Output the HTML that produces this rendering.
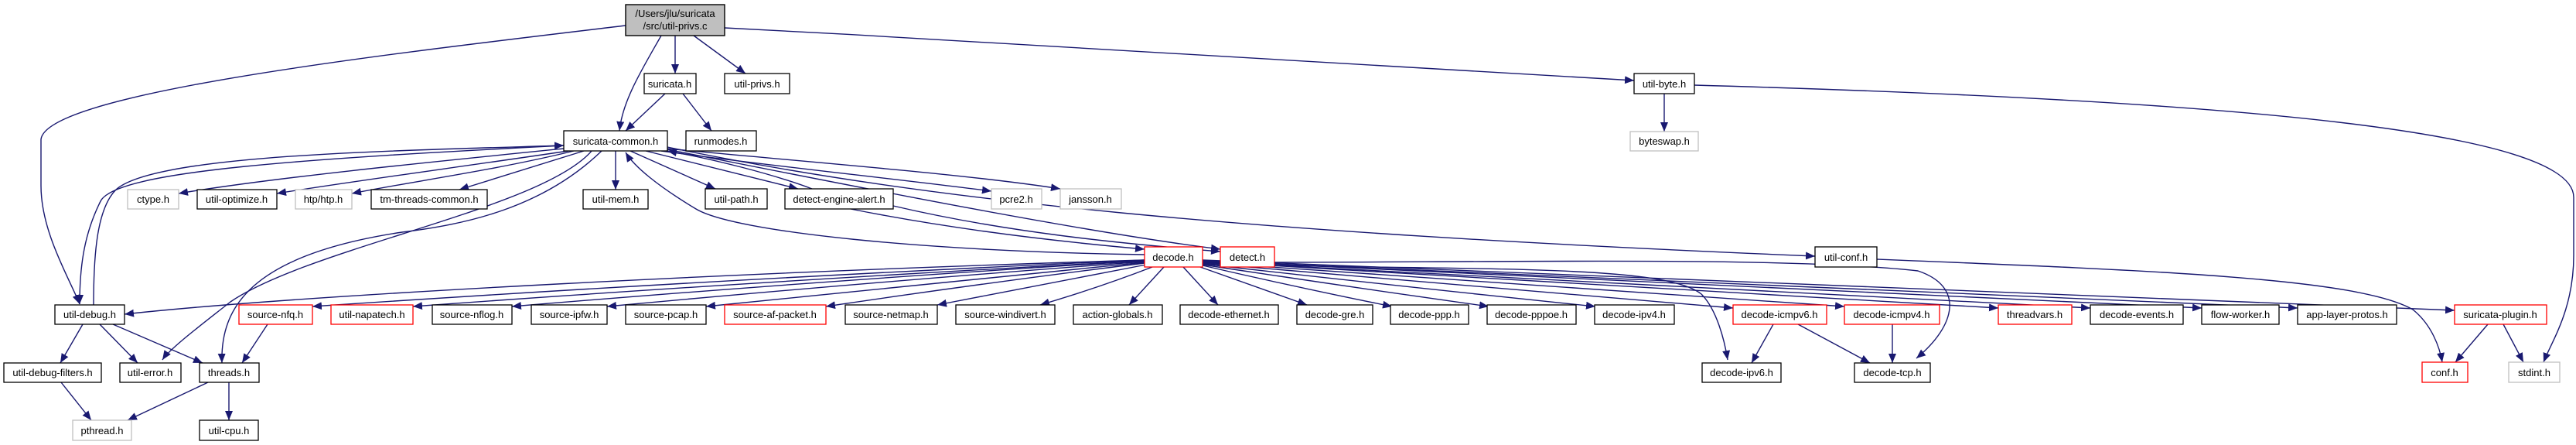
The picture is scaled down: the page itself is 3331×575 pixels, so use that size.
<!DOCTYPE html>
<html><head><meta charset="utf-8"><style>
html,body{margin:0;padding:0;background:#fff;}
svg{display:block;}
text{font-family:"Liberation Sans",Arial,sans-serif;font-size:13px;fill:#000;}
</style></head><body>
<svg width="3331" height="575" viewBox="0 0 3331 575" xmlns="http://www.w3.org/2000/svg">
<defs>
<marker id="a" markerUnits="userSpaceOnUse" markerWidth="13" markerHeight="10" refX="12" refY="5" orient="auto">
<path d="M0,0 L12,5 L0,10 z" fill="#191970"/>
</marker>
</defs>
<g fill="none" stroke="#191970" stroke-width="1.4" marker-end="url(#a)">
<!-- root edges -->
<path d="M809,33 C500,70 60,120 53,180 L53,240 C53,300 90,360 103,393"/>
<path d="M855,46 C830,90 805,130 801,169"/>
<path d="M873,46 L873,95"/>
<path d="M897,46 L964,95"/>
<path d="M937,36 C1400,60 1900,90 2113,104"/>
<path d="M860,121 L809,169"/>
<path d="M883,121 L920,169"/>
<path d="M2152,121 L2152,170"/>
<path d="M2191,110 C2900,130 3328,170 3328,255 L3328,330 C3328,400 3300,440 3289,468"/>
<!-- suricata-common -->
<path d="M729,192 C550,210 350,230 231,250"/>
<path d="M735,195 C600,215 450,235 358,250"/>
<path d="M742,195 C640,220 530,235 455,250"/>
<path d="M755,195 L594,245"/>
<path d="M796,195 L796,245"/>
<path d="M815,195 L925,244"/>
<path d="M835,195 L1032,244"/>
<path d="M855,195 C1000,215 1150,230 1282,247"/>
<path d="M863,192 C1050,210 1250,225 1371,244"/>
<path d="M778,195 C700,270 600,290 520,300 C320,330 285,400 287,469"/>
<path d="M765,195 C700,270 400,320 298,390 C260,420 220,450 210,465"/>
<path d="M729,188 C400,205 150,220 130,260 C110,300 103,340 103,393"/>
<path d="M121,394 C121,330 125,270 150,245 C200,200 500,195 729,188"/>
<path d="M1480,329 C1200,325 950,300 900,270 C850,240 820,215 809,197"/>
<path d="M1050,244 C1000,225 920,205 863,195"/>
<path d="M1100,270 C1250,300 1400,315 1480,322"/>
<path d="M863,193 C1100,240 1400,300 1578,322"/>
<path d="M1155,266 C1300,300 1450,315 1578,325"/>
<path d="M863,190 C1200,260 1600,300 2347,331"/>
<path d="M2427,335 C2800,350 3050,360 3120,400 C3145,420 3155,450 3158,468"/>
<!-- decode.h left -->
<path d="M1480,336 C1000,350 400,380 161,406"/>
<path d="M1480,336 Q940,360 404,396"/>
<path d="M1480,337 Q1000,362 534,396"/>
<path d="M1480,337 Q1070,362 662,396"/>
<path d="M1480,338 Q1130,364 785,396"/>
<path d="M1480,339 Q1200,366 913,396"/>
<path d="M1480,340 Q1270,366 1068,396"/>
<path d="M1482,342 Q1350,368 1212,394"/>
<path d="M1490,345 Q1420,372 1345,394"/>
<path d="M1505,345 L1460,394"/>
<path d="M1530,345 L1575,394"/>
<!-- decode.h right -->
<path d="M1552,345 L1690,394"/>
<path d="M1555,343 Q1680,372 1800,396"/>
<path d="M1555,342 Q1740,370 1925,396"/>
<path d="M1555,341 Q1810,370 2063,396"/>
<path d="M1555,340 Q1900,368 2241,398"/>
<path d="M1555,339 Q1970,366 2385,396"/>
<path d="M1555,338 Q2070,370 2584,398"/>
<path d="M1555,338 Q2130,368 2703,398"/>
<path d="M1555,337 Q2200,366 2847,398"/>
<path d="M1555,337 Q2260,366 2971,398"/>
<path d="M1555,336 Q2360,365 3174,401"/>
<path d="M1555,341 C1900,350 2150,340 2200,380 C2220,400 2230,440 2234,465"/>
<path d="M1555,339 C1900,340 2300,330 2480,350 C2540,370 2530,420 2478,463"/>
<!-- lower -->
<path d="M2293,419 L2265,469"/>
<path d="M2325,419 L2418,469"/>
<path d="M2447,419 L2447,469"/>
<path d="M107,419 L78,469"/>
<path d="M129,419 L178,469"/>
<path d="M146,419 L262,469"/>
<path d="M346,419 L313,469"/>
<path d="M79,494 L118,543"/>
<path d="M269,494 L165,543"/>
<path d="M296,494 L296,543"/>
<path d="M3217,419 L3175,468"/>
<path d="M3237,419 L3263,468"/>
</g>
<g stroke-width="1.4">
<rect x="809" y="6" width="128" height="40" fill="#bfbfbf" stroke="#000"/>
<text x="873" y="22" text-anchor="middle">/Users/jlu/suricata</text>
<text x="873" y="38" text-anchor="middle">/src/util-privs.c</text>
</g>
<g stroke-width="1.3" fill="#fff">
<rect x="833" y="95" width="67" height="26" stroke="#000"/>
<rect x="937" y="95" width="84" height="26" stroke="#000"/>
<rect x="2113" y="95" width="78" height="26" stroke="#000"/>
<rect x="729" y="169" width="134" height="26" stroke="#000"/>
<rect x="887" y="169" width="91" height="26" stroke="#000"/>
<rect x="2108" y="170" width="88" height="25" stroke="#bfbfbf"/>
<rect x="165" y="245" width="66" height="25" stroke="#bfbfbf"/>
<rect x="255" y="245" width="103" height="25" stroke="#000"/>
<rect x="382" y="245" width="73" height="25" stroke="#bfbfbf"/>
<rect x="480" y="245" width="150" height="25" stroke="#000"/>
<rect x="754" y="245" width="84" height="25" stroke="#000"/>
<rect x="912" y="244" width="80" height="26" stroke="#000"/>
<rect x="1015" y="244" width="140" height="26" stroke="#000"/>
<rect x="1282" y="244" width="65" height="26" stroke="#bfbfbf"/>
<rect x="1371" y="244" width="79" height="26" stroke="#bfbfbf"/>
<rect x="1480" y="319" width="75" height="26" stroke="#ff0000"/>
<rect x="1578" y="319" width="70" height="26" stroke="#ff0000"/>
<rect x="2347" y="319" width="80" height="26" stroke="#000"/>
<rect x="71" y="394" width="90" height="25" stroke="#000"/>
<rect x="309" y="394" width="95" height="25" stroke="#ff0000"/>
<rect x="428" y="394" width="106" height="25" stroke="#ff0000"/>
<rect x="559" y="394" width="103" height="25" stroke="#000"/>
<rect x="687" y="394" width="98" height="25" stroke="#000"/>
<rect x="809" y="394" width="104" height="25" stroke="#000"/>
<rect x="937" y="394" width="131" height="25" stroke="#ff0000"/>
<rect x="1093" y="394" width="119" height="25" stroke="#000"/>
<rect x="1236" y="394" width="128" height="25" stroke="#000"/>
<rect x="1388" y="394" width="115" height="25" stroke="#000"/>
<rect x="1526" y="394" width="127" height="25" stroke="#000"/>
<rect x="1677" y="394" width="98" height="25" stroke="#000"/>
<rect x="1798" y="394" width="101" height="25" stroke="#000"/>
<rect x="1923" y="394" width="115" height="25" stroke="#000"/>
<rect x="2062" y="394" width="103" height="25" stroke="#000"/>
<rect x="2241" y="394" width="121" height="25" stroke="#ff0000"/>
<rect x="2385" y="394" width="123" height="25" stroke="#ff0000"/>
<rect x="2584" y="394" width="95" height="25" stroke="#ff0000"/>
<rect x="2703" y="394" width="120" height="25" stroke="#000"/>
<rect x="2847" y="394" width="100" height="25" stroke="#000"/>
<rect x="2971" y="394" width="128" height="25" stroke="#000"/>
<rect x="3174" y="394" width="119" height="25" stroke="#ff0000"/>
<rect x="5" y="469" width="126" height="25" stroke="#000"/>
<rect x="155" y="469" width="79" height="25" stroke="#000"/>
<rect x="258" y="469" width="77" height="25" stroke="#000"/>
<rect x="2201" y="469" width="102" height="25" stroke="#000"/>
<rect x="2398" y="469" width="98" height="25" stroke="#000"/>
<rect x="3132" y="468" width="59" height="26" stroke="#ff0000"/>
<rect x="3244" y="468" width="66" height="26" stroke="#bfbfbf"/>
<rect x="94" y="543" width="76" height="26" stroke="#bfbfbf"/>
<rect x="258" y="543" width="76" height="26" stroke="#000"/>
</g>
<g text-anchor="middle">
<text x="866" y="113">suricata.h</text>
<text x="979" y="113">util-privs.h</text>
<text x="2152" y="113">util-byte.h</text>
<text x="796" y="187">suricata-common.h</text>
<text x="932" y="187">runmodes.h</text>
<text x="2152" y="187">byteswap.h</text>
<text x="198" y="262">ctype.h</text>
<text x="306" y="262">util-optimize.h</text>
<text x="418" y="262">htp/htp.h</text>
<text x="555" y="262">tm-threads-common.h</text>
<text x="796" y="262">util-mem.h</text>
<text x="952" y="262">util-path.h</text>
<text x="1085" y="262">detect-engine-alert.h</text>
<text x="1314" y="262">pcre2.h</text>
<text x="1410" y="262">jansson.h</text>
<text x="1517" y="337">decode.h</text>
<text x="1613" y="337">detect.h</text>
<text x="2387" y="337">util-conf.h</text>
<text x="116" y="411">util-debug.h</text>
<text x="356" y="411">source-nfq.h</text>
<text x="481" y="411">util-napatech.h</text>
<text x="610" y="411">source-nflog.h</text>
<text x="736" y="411">source-ipfw.h</text>
<text x="861" y="411">source-pcap.h</text>
<text x="1002" y="411">source-af-packet.h</text>
<text x="1152" y="411">source-netmap.h</text>
<text x="1300" y="411">source-windivert.h</text>
<text x="1445" y="411">action-globals.h</text>
<text x="1589" y="411">decode-ethernet.h</text>
<text x="1726" y="411">decode-gre.h</text>
<text x="1848" y="411">decode-ppp.h</text>
<text x="1980" y="411">decode-pppoe.h</text>
<text x="2113" y="411">decode-ipv4.h</text>
<text x="2301" y="411">decode-icmpv6.h</text>
<text x="2446" y="411">decode-icmpv4.h</text>
<text x="2631" y="411">threadvars.h</text>
<text x="2763" y="411">decode-events.h</text>
<text x="2897" y="411">flow-worker.h</text>
<text x="3035" y="411">app-layer-protos.h</text>
<text x="3233" y="411">suricata-plugin.h</text>
<text x="68" y="486">util-debug-filters.h</text>
<text x="194" y="486">util-error.h</text>
<text x="296" y="486">threads.h</text>
<text x="2252" y="486">decode-ipv6.h</text>
<text x="2447" y="486">decode-tcp.h</text>
<text x="3161" y="486">conf.h</text>
<text x="3277" y="486">stdint.h</text>
<text x="132" y="561">pthread.h</text>
<text x="296" y="561">util-cpu.h</text>
</g>
</svg>
</body></html>
